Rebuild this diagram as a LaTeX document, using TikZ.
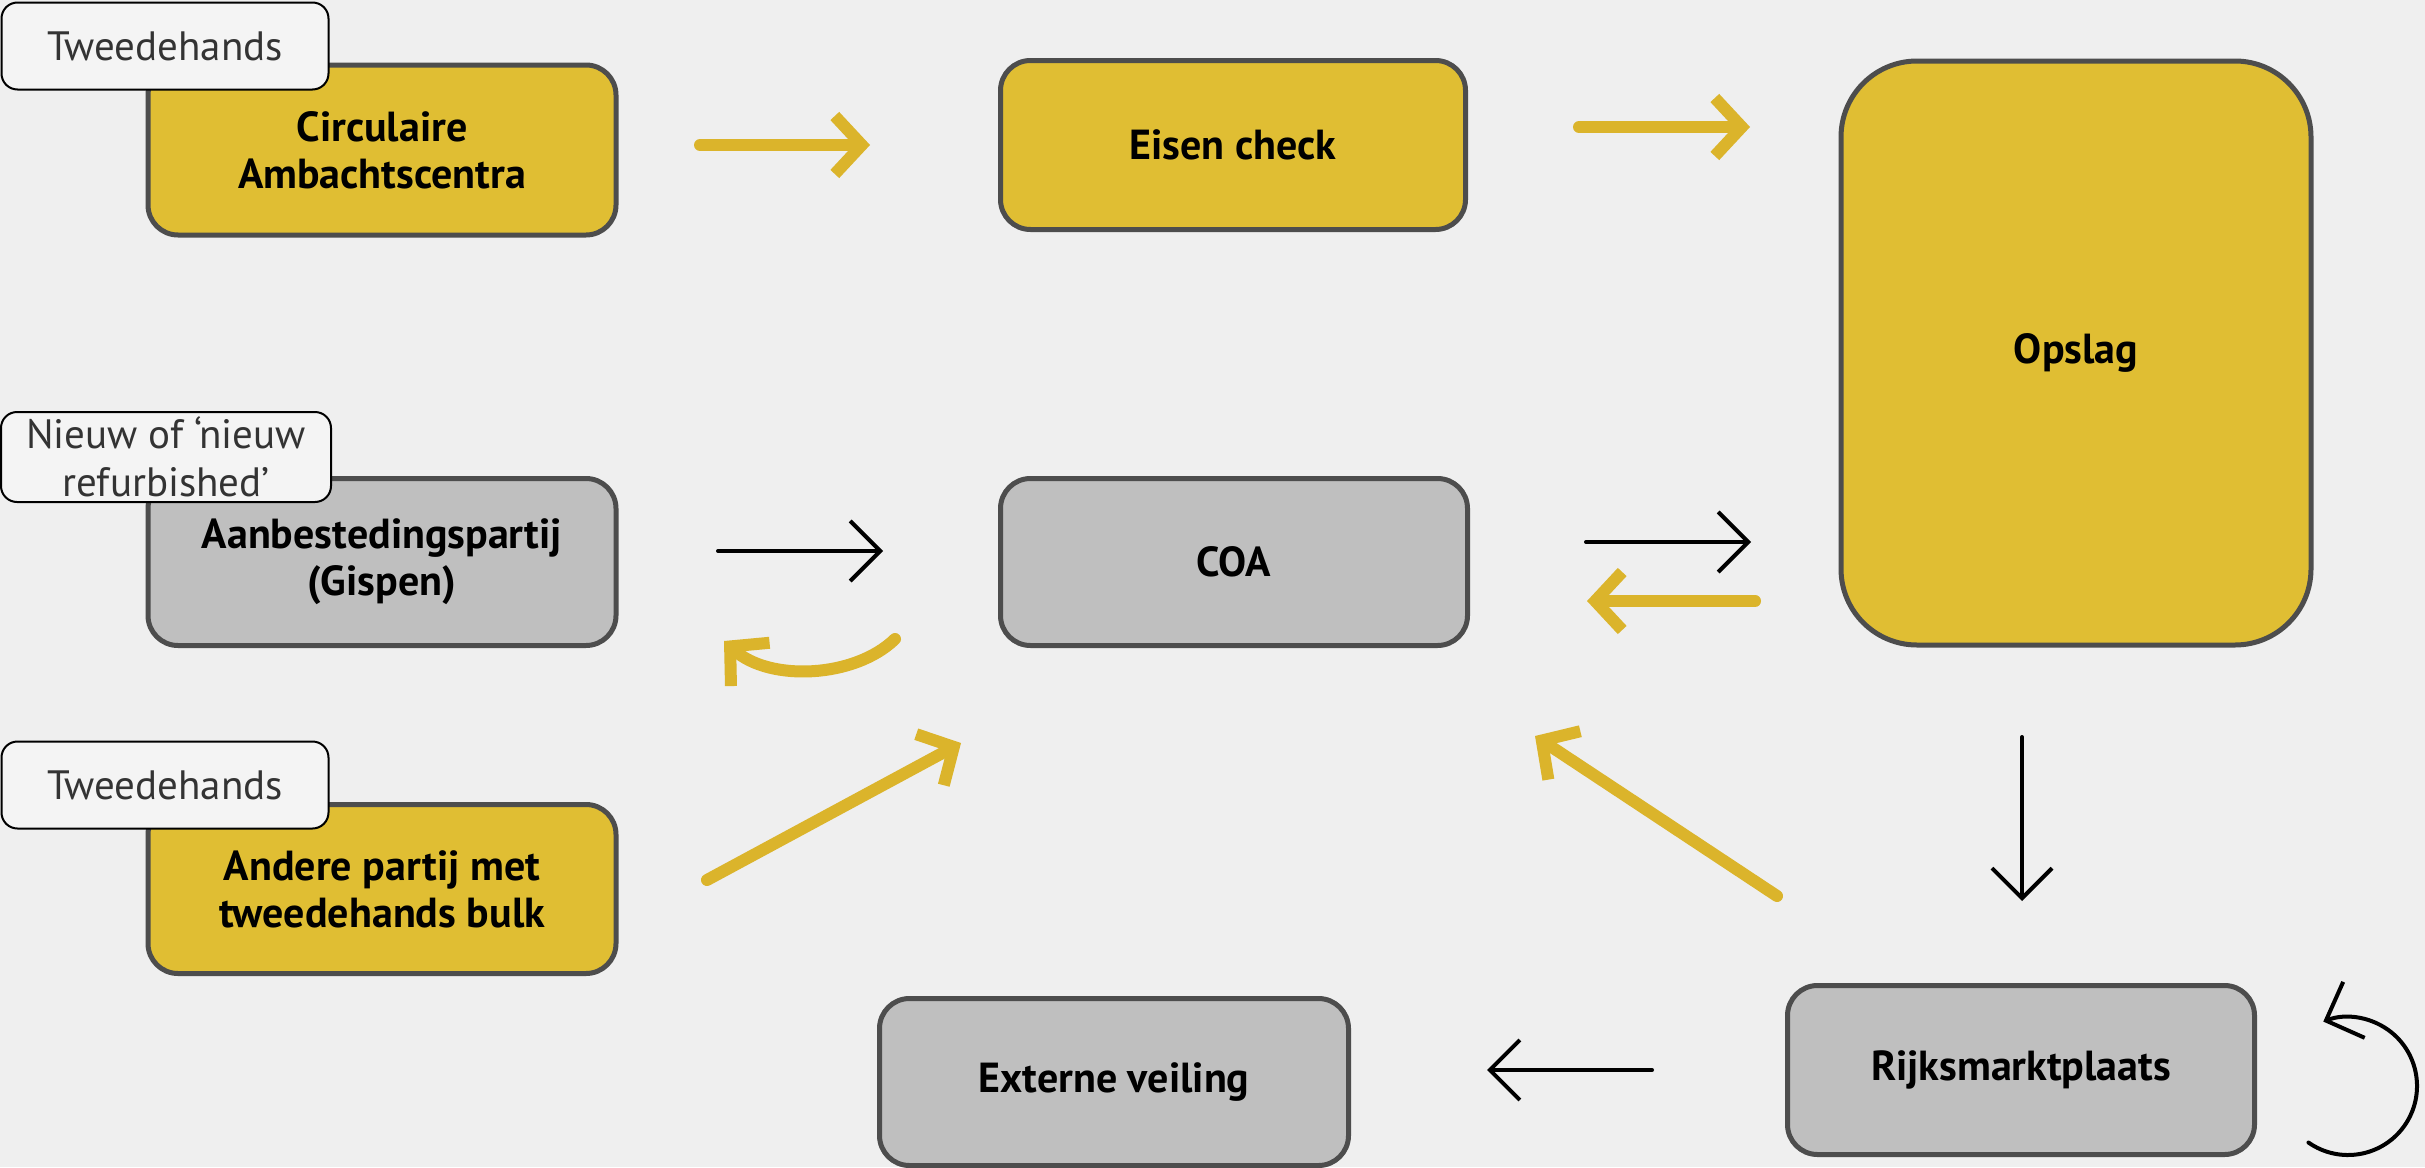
\documentclass[tikz,border=0pt]{standalone}
\usepackage{fontspec}
\setmainfont{PT Sans}
\usetikzlibrary{arrows.meta}

\definecolor{bgcol}{HTML}{EFEFEF}
\definecolor{boxyellow}{HTML}{E0BE33}
\definecolor{boxgray}{HTML}{BFBFBF}
\definecolor{boxline}{HTML}{4D4D4D}
\definecolor{arrowyellow}{HTML}{DBB42B}
\definecolor{tagfill}{HTML}{F4F4F4}
\definecolor{tagtext}{HTML}{333333}

\tikzset{
  box/.style={draw=boxline, line width=5pt, rounded corners=30pt, align=center,
    inner sep=0pt, font=\fontsize{42}{47}\selectfont\bfseries},
  ybox/.style={box, fill=boxyellow},
  gbox/.style={box, fill=boxgray},
  tag/.style={draw=black, line width=2pt, fill=tagfill, rounded corners=16pt,
    align=center, inner sep=0pt, text=tagtext, font=\fontsize{41}{48}\selectfont},
  yarr/.style={draw=arrowyellow, line width=12pt, line cap=round, line join=round,
    -{Straight Barb[length=27pt,width=58pt]}},
  barr/.style={draw=black, line width=4pt, line cap=round, line join=round,
    -{Straight Barb[length=30pt,width=60pt]}},
}

\begin{document}
\begin{tikzpicture}[x=1pt,y=-1pt]
  % canvas
  \fill[bgcol] (0,0) rectangle (2425,1167);
  \useasboundingbox (0,0) rectangle (2425,1167);

  % process boxes
  \node[ybox, minimum width=468pt, minimum height=170pt] (circ) at (382,150)
    {Circulaire\\Ambachtscentra};
  \node[ybox, minimum width=465pt, minimum height=169pt] (eisen) at (1233,145)
    {Eisen check};
  \node[ybox, minimum width=470pt, minimum height=584pt, rounded corners=76pt] (opslag) at (2076,353)
    {Opslag};
  \node[gbox, minimum width=468pt, minimum height=167pt] (aanb) at (382,562)
    {Aanbestedingspartij\\(Gispen)};
  \node[gbox, minimum width=467pt, minimum height=167pt] (coa) at (1234,562)
    {COA};
  \node[ybox, minimum width=468pt, minimum height=169pt] (andere) at (382,889)
    {Andere partij met\\tweedehands bulk};
  \node[gbox, minimum width=467pt, minimum height=169pt] (rijks) at (2021,1070)
    {Rijksmarktplaats};
  \node[gbox, minimum width=469pt, minimum height=167pt] (extern) at (1114,1082)
    {Externe veiling};

  % source labels
  \node[tag, minimum width=327pt, minimum height=87pt] (tag1) at (165,46) {Tweedehands};
  \node[tag, minimum width=330pt, minimum height=90pt] (tag2) at (166,457)
    {Nieuw of ‘nieuw\\refurbished’};
  \node[tag, minimum width=327pt, minimum height=87pt] (tag3) at (165,785) {Tweedehands};

  % arrow end points
  \coordinate (a1s) at (700,145);  \coordinate (a1e) at (870,145);
  \coordinate (a2s) at (1579,127); \coordinate (a2e) at (1750,127);
  \coordinate (a3s) at (718,551);  \coordinate (a3e) at (883,551);
  \coordinate (a4s) at (1586,542); \coordinate (a4e) at (1751,542);
  \coordinate (a5s) at (1755,601); \coordinate (a5e) at (1587,601);
  \coordinate (a6s) at (895,639);  \coordinate (a6e) at (724,641);
  \coordinate (a7s) at (707,880);  \coordinate (a7e) at (961,743);
  \coordinate (a8s) at (1777,896); \coordinate (a8e) at (1535,736);
  \coordinate (a9s) at (2022,737); \coordinate (a9e) at (2022,901);
  \coordinate (a10s) at (1652,1070); \coordinate (a10e) at (1487,1070);
  \coordinate (loopc) at (2348,1086);

  % flows
  \draw[yarr] (a1s) -- (a1e);
  \draw[yarr] (a2s) -- (a2e);
  \draw[barr] (a3s) -- (a3e);
  \draw[barr] (a4s) -- (a4e);
  \draw[yarr] (a5s) -- (a5e);
  \draw[yarr] (a6s) .. controls (855,678) and (770,682) .. (a6e);
  \draw[yarr] (a7s) -- (a7e);
  \draw[yarr] (a8s) -- (a8e);
  \draw[barr] (a9s) -- (a9e);
  \draw[barr] (a10s) -- (a10e);
  \draw[barr] ([shift={(125:69)}]loopc) arc[start angle=125, end angle=-111, radius=69];
\end{tikzpicture}
\end{document}
